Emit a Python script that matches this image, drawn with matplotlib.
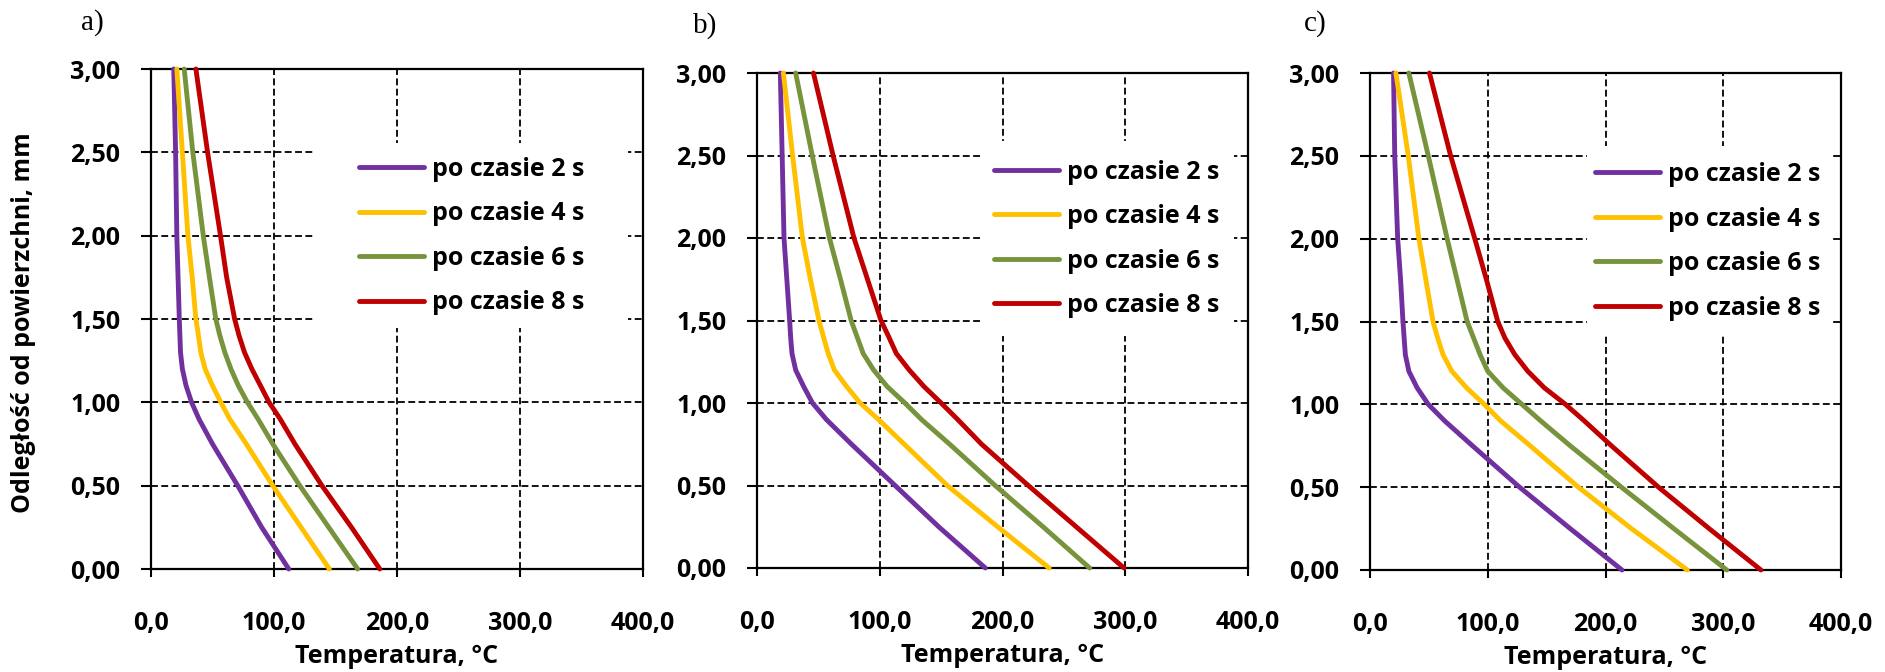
import matplotlib
matplotlib.use('Agg')
import matplotlib.pyplot as plt
from matplotlib.patches import Rectangle
from matplotlib.ticker import FuncFormatter

# depth below the surface, mm (common for all curves)
depth = [0.0, 0.25, 0.5, 0.75, 0.9, 1.0, 1.1, 1.2, 1.3, 1.4, 1.5, 1.75, 2.0, 2.5, 3.0]

# temperature, degC - panel a)
a_2s = [112, 90, 70.5, 50, 39, 33, 28.5, 25.5, 24, 23.5, 23, 22, 21, 20, 18.5]
a_4s = [145, 122, 99, 77.5, 64, 56.8, 50, 44, 40.5, 38.6, 36.5, 33.5, 30, 25.5, 21]
a_6s = [168, 144.5, 121, 99, 87, 78.4, 71, 65, 60, 56, 52.7, 47.5, 42.5, 34, 27]
a_8s = [186, 163, 139, 117, 105, 96, 89, 82, 76, 71.6, 68, 61.5, 56.5, 46, 36.5]

# panel b)
b_2s = [186, 148, 112.5, 77, 56.5, 45.2, 38, 31.5, 28.5, 27.4, 26.6, 24.3, 22, 20.5, 19]
b_4s = [238, 196, 155, 120, 99, 84, 73, 63, 58, 54.2, 50.5, 43.5, 37, 29, 21.5]
b_6s = [271, 233, 194, 157, 134, 120.5, 106, 95, 86.5, 81.6, 76.7, 68, 59, 45, 31.5]
b_8s = [299, 260, 221, 183, 163.5, 150, 136, 124, 113.5, 107.4, 101, 90, 79, 62, 46]

# panel c)
c_2s = [214, 170, 127, 87, 63.4, 49.5, 40, 33, 30, 29, 28, 26, 23.5, 21, 20]
c_4s = [269.5, 222, 177, 136, 111, 97, 82, 69.5, 62, 57.5, 53.5, 47.5, 41.5, 32.5, 22]
c_6s = [303, 258, 213.5, 170, 145, 129, 113, 100, 93.5, 88, 82.5, 74, 65.5, 49.5, 33]
c_8s = [332, 288, 245, 205, 182, 166, 148, 134, 123, 114.6, 108.5, 99, 89, 68.5, 50.5]

labels = ['po czasie 2 s', 'po czasie 4 s', 'po czasie 6 s', 'po czasie 8 s']
colors = ['#7030A0', '#FFC000', '#77933C', '#C00000']
panel_names = ['a)', 'b)', 'c)']
panels = [[a_2s, a_4s, a_6s, a_8s],
          [b_2s, b_4s, b_6s, b_8s],
          [c_2s, c_4s, c_6s, c_8s]]

x_ticks = [0, 100, 200, 300, 400]
y_ticks = [0, 0.5, 1.0, 1.5, 2.0, 2.5, 3.0]

plt.rcParams['font.family'] = ['Open Sans', 'DejaVu Sans']
plt.rcParams['font.weight'] = 'bold'

W, H = 1885, 672
fig = plt.figure(figsize=(W / 100, H / 100), dpi=100)

# axes boxes in pixels: left, right, top, bottom
boxes = [(151, 643, 69, 569), (757, 1248, 73, 568), (1370, 1841, 73, 570)]
# white legend background (axes fraction): x0, x1, y0, y1
leg_bg = [(0.331, 0.970, 0.482, 0.852), (0.454, 0.971, 0.469, 0.863), (0.461, 0.980, 0.473, 0.853)]
leg_anchor = [(0.423, 0.666), (0.483, 0.665), (0.478, 0.661)]
name_pos = [(92, 23), (705, 26), (1315, 24)]

xfmt = FuncFormatter(lambda v, p: f'{v:.1f}'.replace('.', ','))
yfmt = FuncFormatter(lambda v, p: f'{v:.2f}'.replace('.', ','))

for i, series in enumerate(panels):
    l, r, t, b = boxes[i]
    ax = fig.add_axes([l / W, 1 - b / H, (r - l) / W, (b - t) / H])
    ax.set_xlim(0, 400)
    ax.set_ylim(0, 3)
    ax.set_xticks(x_ticks)
    ax.set_yticks(y_ticks)
    ax.xaxis.set_major_formatter(xfmt)
    ax.yaxis.set_major_formatter(yfmt)
    ax.set_axisbelow(True)
    ax.grid(True, color='black', linestyle=(0, (3.8, 1.9)), linewidth=1.3)

    x0, x1, y0, y1 = leg_bg[i]
    ax.add_patch(Rectangle((x0, y0), x1 - x0, y1 - y0, transform=ax.transAxes,
                           facecolor='white', edgecolor='none', zorder=1.5))

    for temps, lab, col in zip(series, labels, colors):
        ax.plot(temps, depth, color=col, lw=3.5, label=lab,
                solid_capstyle='round', solid_joinstyle='round', zorder=3, clip_on=False)

    ax.legend(loc='center left', bbox_to_anchor=leg_anchor[i], frameon=False,
              fontsize=18, handlelength=2.6, handletextpad=0.32,
              labelspacing=0.78, borderpad=0, borderaxespad=0)

    ax.tick_params(axis='both', direction='out', width=1.5, labelsize=18, colors='black')
    ax.tick_params(axis='y', length=7, pad=15)
    ax.tick_params(axis='x', length=6, pad=24)
    for sp in ax.spines.values():
        sp.set_linewidth(1.6)
        sp.set_color('black')

    ax.set_xlabel('Temperatura, °C', fontsize=18, fontweight='bold', labelpad=6)

    nx, ny = name_pos[i]
    fig.text(nx / W, 1 - ny / H, panel_names[i], family='Liberation Serif',
             fontweight='normal', fontsize=21, ha='center', va='center')

fig.text(24 / W, 1 - 323 / H, 'Odległość od powierzchni, mm', rotation=90,
         fontsize=18, fontweight='bold', ha='center', va='center')

fig.savefig('out.png', dpi=100)
